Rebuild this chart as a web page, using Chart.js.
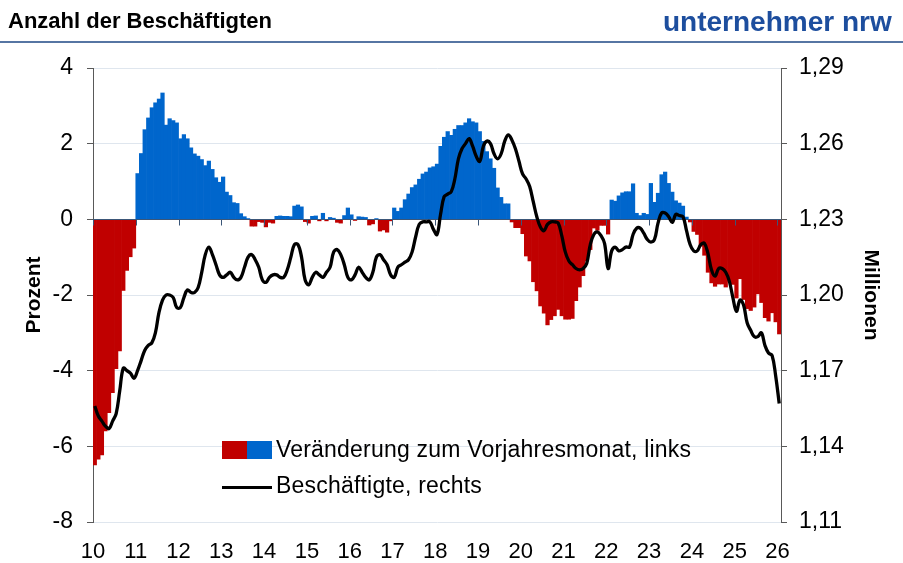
<!DOCTYPE html>
<html>
<head>
<meta charset="utf-8">
<script src="https://cdn.jsdelivr.net/npm/chart.js@4.4.1/dist/chart.umd.min.js"></script>
<style>
    body { margin: 0; background: #fff; font-family: "Liberation Sans", Arial, sans-serif; }
    #wrap { position: relative; width: 903px; height: 563px; overflow: hidden; }
    #chart { position: absolute; left: 0; top: 0; }
    #titel { position: absolute; left: 8px; top: 8px; font-size: 22px; font-weight: bold; color: #000; }
    #logo { position: absolute; left: 663px; top: 6px; font-size: 28px; font-weight: bold; color: #1d4e9e; }
    #linie { position: absolute; left: 0; top: 41px; width: 903px; height: 2px; background: #5675a3; }
    #legende { position: absolute; left: 222px; top: 436px; font-size: 23px; color: #000; letter-spacing: 0.2px; }
    .zeile { position: relative; height: 36px; }
    .box { position: absolute; top: 5px; width: 25px; height: 18px; }
    .rot { left: 0; background: #c00000; }
    .blau { left: 25px; background: #0066cc; }
    .strich { position: absolute; left: 0; top: 14px; width: 50px; height: 3px; background: #000; }
    .text { position: absolute; left: 54px; top: 0; white-space: nowrap; }
</style>
</head>
<body>
<div id="wrap">
    <canvas id="chart" width="903" height="563"></canvas>
    <div id="titel">Anzahl der Beschäftigten</div>
    <div id="logo">unternehmer nrw</div>
    <div id="linie"></div>
    <div id="legende">
        <div class="zeile"><span class="box rot"></span><span class="box blau"></span><span class="text">Veränderung zum Vorjahresmonat, links</span></div>
        <div class="zeile"><span class="strich"></span><span class="text">Beschäftigte, rechts</span></div>
    </div>
</div>
<script>
// Monate Jan 2010 .. Jan 2026
var jahre = ['10', '11', '12', '13', '14', '15', '16', '17', '18', '19', '20', '21', '22', '23', '24', '25', '26'];
var linksTicks = [-8, -6, -4, -2, 0, 2, 4];
var rechtsTicks = [1.11, 1.14, 1.17, 1.20, 1.23, 1.26, 1.29];

// Veränderung zum Vorjahresmonat in %, links
var veraenderung = [
    -6.49, -6.34, -6.23, -5.59, -5.11, -4.58, -3.95, -3.48, -1.88, -1.35, -0.99, -0.76,
    1.21, 1.74, 2.37, 2.68, 2.95, 3.08, 3.18, 3.34, 2.49, 2.66, 2.61, 2.55,
    2.13, 2.24, 2.13, 1.89, 1.73, 1.67, 1.58, 1.42, 1.54, 1.32, 1.10, 0.98,
    1.12, 0.72, 0.63, 0.44, 0.42, 0.15, 0.07, 0.02, -0.18, -0.18, -0.06, -0.08,
    -0.20, -0.08, -0.10, 0.08, 0.09, 0.08, 0.08, 0.07, 0.35, 0.38, 0.33, -0.06,
    -0.10, 0.08, 0.09, -0.04, 0.16, -0.04, 0.05, 0.03, -0.08, -0.10, 0.10, 0.30,
    0.12, -0.03, 0.07, 0.06, 0.05, -0.15, -0.12, 0.02, -0.31, -0.28, -0.34, -0.04,
    0.30, 0.21, 0.30, 0.52, 0.67, 0.84, 0.91, 1.06, 1.20, 1.25, 1.36, 1.39,
    1.46, 1.93, 2.17, 2.32, 2.22, 2.38, 2.48, 2.48, 2.55, 2.66, 2.58, 2.55,
    2.32, 2.06, 1.79, 1.60, 1.35, 0.83, 0.58, 0.41, 0.41, -0.07, -0.22, -0.22,
    -0.38, -0.97, -1.10, -1.65, -1.89, -2.29, -2.48, -2.79, -2.65, -2.55, -2.38, -2.55,
    -2.64, -2.64, -2.62, -2.15, -1.79, -1.49, -1.10, -0.80, -0.23, -0.29, -0.16, -0.16,
    -0.39, 0.51, 0.48, 0.62, 0.70, 0.73, 0.73, 0.94, 0.16, 0.10, 0.16, 0.13,
    0.95, 0.45, 0.69, 1.18, 1.25, 0.95, 0.72, 0.49, 0.43, 0.35, 0.06, -0.07,
    -0.32, -0.40, -0.71, -0.95, -1.40, -1.68, -1.77, -1.71, -1.71, -1.79, -1.64, -1.72,
    -2.08, -1.57, -2.12, -2.36, -2.41, -2.32, -1.97, -2.20, -2.60, -2.69, -2.47, -2.71,
    -3.03
];

// Beschäftigte in Millionen, rechts
var beschaeftigte = [
    1.156, 1.152, 1.150, 1.148, 1.147, 1.150, 1.153, 1.162, 1.171, 1.170, 1.169, 1.167,
    1.170, 1.174, 1.178, 1.180, 1.181, 1.185, 1.193, 1.198, 1.200, 1.200, 1.199, 1.195,
    1.195, 1.199, 1.202, 1.201, 1.201, 1.203, 1.209, 1.216, 1.219, 1.216, 1.212, 1.208,
    1.207, 1.208, 1.209, 1.207, 1.206, 1.207, 1.211, 1.215, 1.216, 1.214, 1.211, 1.206,
    1.205, 1.207, 1.208, 1.208, 1.207, 1.207, 1.210, 1.215, 1.220, 1.220, 1.215, 1.206,
    1.204, 1.207, 1.209, 1.208, 1.207, 1.209, 1.211, 1.217, 1.218, 1.216, 1.212, 1.207,
    1.206, 1.208, 1.211, 1.209, 1.207, 1.206, 1.209, 1.215, 1.216, 1.214, 1.212, 1.208,
    1.207, 1.211, 1.212, 1.213, 1.214, 1.217, 1.223, 1.228, 1.229, 1.229, 1.229, 1.226,
    1.224, 1.232, 1.239, 1.240, 1.241, 1.246, 1.254, 1.258, 1.260, 1.262, 1.259, 1.255,
    1.253, 1.259, 1.261, 1.260, 1.256, 1.254, 1.256, 1.261, 1.2635, 1.2615, 1.258, 1.253,
    1.248, 1.246, 1.243, 1.237, 1.231, 1.227, 1.2255, 1.228, 1.229, 1.229, 1.2285, 1.2235,
    1.217, 1.2135, 1.212, 1.2105, 1.210, 1.2105, 1.2125, 1.220, 1.224, 1.225, 1.2235, 1.2205,
    1.2105, 1.2175, 1.219, 1.2175, 1.218, 1.219, 1.219, 1.224, 1.2265, 1.2265, 1.2245, 1.222,
    1.221, 1.222, 1.2285, 1.2325, 1.2325, 1.231, 1.2288, 1.232, 1.2315, 1.231, 1.2255, 1.220,
    1.2175, 1.2175, 1.220, 1.2205, 1.2165, 1.210, 1.2075, 1.2105, 1.2105, 1.209, 1.2055, 1.199,
    1.1935, 1.198, 1.196, 1.189, 1.186, 1.1835, 1.1835, 1.185, 1.180, 1.177, 1.176, 1.168,
    1.157
];

var rot = '#c00000';
var blau = '#0066cc';

function punkte(werte) {
    var data = [];
    for (var i = 0; i < werte.length; i++) {
        data.push({x: i + 0.5, y: werte[i]});
    }
    return data;
}

// Nulllinie mit Jahresstrichen, über den Balken
var nullLinie = {
    id: 'nullLinie',
    afterDatasetDraw: function (chart, args) {
        if (args.index !== 0) return;
        var ctx = chart.ctx;
        var x = chart.scales.x;
        var y0 = Math.round(chart.scales.y.getPixelForValue(0)) + 0.5;
        ctx.save();
        ctx.strokeStyle = '#3b5678';
        ctx.lineWidth = 1;
        ctx.beginPath();
        ctx.moveTo(chart.chartArea.left, y0);
        ctx.lineTo(chart.chartArea.right, y0);
        x.ticks.forEach(function (t) {
            var px = Math.round(x.getPixelForValue(t.value)) + 0.5;
            ctx.moveTo(px, y0);
            ctx.lineTo(px, y0 + 6);
        });
        ctx.stroke();
        ctx.restore();
    }
};

var tickFont = {family: '"Liberation Sans", Arial, sans-serif', size: 23};

var ctx = document.getElementById('chart').getContext('2d');
var chart = new Chart(ctx, {
    type: 'bar',
    data: {
        datasets: [{
            type: 'bar',
            label: 'Veränderung zum Vorjahresmonat, links',
            data: punkte(veraenderung),
            backgroundColor: veraenderung.map(function (v) { return v < 0 ? rot : blau; }),
            borderWidth: 0,
            barPercentage: 1,
            categoryPercentage: 1,
            yAxisID: 'y',
            order: 2
        }, {
            type: 'line',
            label: 'Beschäftigte, rechts',
            data: punkte(beschaeftigte),
            borderColor: '#000',
            borderWidth: 3.3,
            pointRadius: 0,
            tension: 0.4,
            fill: false,
            yAxisID: 'y1',
            order: 1
        }]
    },
    options: {
        responsive: false,
        animation: false,
        events: [],
        layout: {padding: {top: 68, left: 0, right: 0, bottom: 0}},
        plugins: {legend: {display: false}, tooltip: {enabled: false}},
        scales: {
            x: {
                type: 'linear',
                offset: false,
                min: 0,
                max: veraenderung.length,
                afterBuildTicks: function (s) {
                    s.ticks = jahre.map(function (j, i) { return {value: i * 12}; });
                },
                afterFit: function (s) { s.height = 41; },
                ticks: {
                    callback: function (v) { return jahre[v / 12]; },
                    font: {family: '"Liberation Sans Narrow", "Liberation Sans", Arial, sans-serif', size: 22},
                    color: '#000',
                    maxRotation: 0,
                    autoSkip: false,
                    padding: 17
                },
                grid: {display: false, drawTicks: false},
                border: {display: false}
            },
            y: {
                position: 'left',
                min: -8,
                max: 4,
                afterBuildTicks: function (s) {
                    s.ticks = linksTicks.map(function (v) { return {value: v}; });
                },
                afterFit: function (s) { s.width = 93; },
                ticks: {font: tickFont, color: '#000', padding: 14},
                grid: {color: '#dfe6ee', tickColor: '#595959', tickLength: 6},
                border: {color: '#595959'},
                title: {display: true, text: 'Prozent', color: '#000', padding: {top: 22, bottom: 0},
                    font: {family: '"Liberation Sans", Arial, sans-serif', size: 21, weight: 'bold'}}
            },
            y1: {
                position: 'right',
                min: 1.11,
                max: 1.29,
                afterBuildTicks: function (s) {
                    s.ticks = rechtsTicks.map(function (v) { return {value: v}; });
                },
                afterFit: function (s) { s.width = 122; },
                ticks: {
                    font: tickFont,
                    color: '#000',
                    padding: 12,
                    callback: function (v) { return v.toFixed(2).replace('.', ','); }
                },
                grid: {drawOnChartArea: false, tickColor: '#595959', tickLength: 6},
                border: {color: '#595959'},
                title: {display: true, text: 'Millionen', color: '#000', padding: {top: 20, bottom: 0},
                    font: {family: '"Liberation Sans", Arial, sans-serif', size: 21, weight: 'bold'}}
            }
        }
    },
    plugins: [nullLinie]
});
</script>
</body>
</html>
